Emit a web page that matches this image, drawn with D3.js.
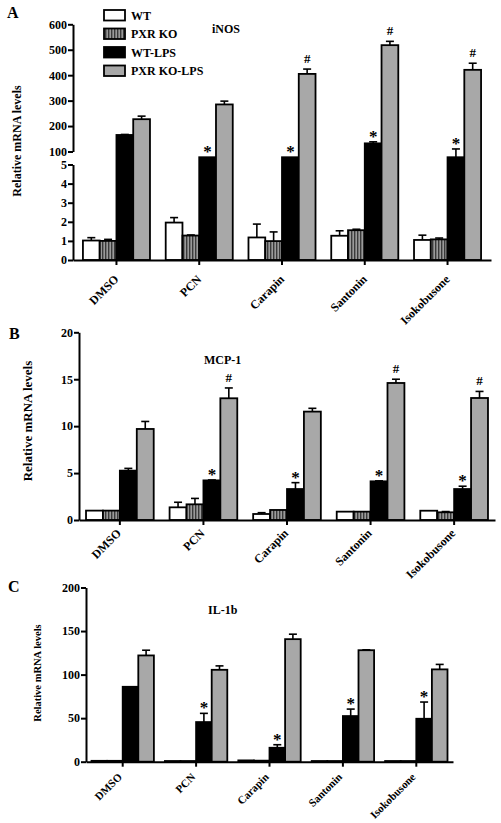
<!DOCTYPE html>
<html><head><meta charset="utf-8">
<script src="https://cdn.jsdelivr.net/npm/d3@7"></script>
<style>body{margin:0;background:#fff}svg{display:block}</style>
</head><body>
<svg id="chart" width="501" height="823"></svg>
<script>
const categories = ["DMSO","PCN","Carapin","Santonin","Isokobusone"];
const seriesNames = ["WT","PXR KO","WT-LPS","PXR KO-LPS"];

// iNOS (panel A)
const inosWT = [1.02, 1.96, 1.18, 1.27, 1.05];
const inosWTErr = [0.15, 0.26, 0.70, 0.26, 0.25];
const inosKO = [1.0, 1.28, 0.99, 1.56, 1.08];
const inosKOErr = [0.08, 0.03, 0.48, 0.05, 0.07];
const inosWTLPS = [165, 58, 58, 132, 58];
const inosWTLPSErr = [2, 0, 0, 6, 52];
const inosKOLPS = [227, 285, 405, 518, 421];
const inosKOLPSErr = [12, 13, 19, 15, 26];
const inosStar = ["", "*", "*", "*", "*"];
const inosHash = ["", "", "#", "#", "#"];

// MCP-1 (panel B)
const mcpWT = [1.0, 1.35, 0.64, 0.89, 0.99];
const mcpWTErr = [0, 0.54, 0.14, 0, 0];
const mcpKO = [1.0, 1.67, 1.07, 0.89, 0.82];
const mcpKOErr = [0, 0.63, 0, 0, 0.08];
const mcpWTLPS = [5.26, 4.22, 3.3, 4.12, 3.3];
const mcpWTLPSErr = [0.24, 0.05, 0.68, 0.05, 0.3];
const mcpKOLPS = [9.7, 12.97, 11.55, 14.6, 13.0];
const mcpKOLPSErr = [0.8, 1.1, 0.35, 0.4, 0.7];
const mcpStar = ["", "*", "*", "*", "*"];
const mcpHash = ["", "#", "", "#", "#"];

// IL-1b (panel C)
const il1WT = [1, 0.8, 1.5, 0.8, 0.8];
const il1WTErr = [0, 0, 0, 0, 0];
const il1KO = [1, 0.8, 1.2, 0.8, 0.8];
const il1KOErr = [0, 0, 0, 0, 0];
const il1WTLPS = [86, 45.5, 16, 52.4, 49.3];
const il1WTLPSErr = [0, 10, 3.5, 8, 19.2];
const il1KOLPS = [122, 105.5, 140.7, 128, 106];
const il1KOLPSErr = [6, 4.5, 5.7, 0.5, 5.7];
const il1Star = ["", "*", "*", "*", "*"];
const il1Hash = ["", "", "", "", ""];

const yTicksAUpper = [100, 200, 300, 400, 500, 600];
const yTicksALower = [0, 1, 2, 3, 4, 5];
const yTicksB = [0, 5, 10, 15, 20];
const yTicksC = [0, 50, 100, 150, 200];

const FONT = "'Liberation Serif','Times New Roman',serif";
const fills = ["#ffffff", "url(#stripes)", "#000000", "#a8a8a8"];

const svg = d3.select("#chart");
const defs = svg.append("defs");
const pat = defs.append("pattern").attr("id","stripes").attr("patternUnits","userSpaceOnUse")
  .attr("width",3).attr("height",6);
pat.append("rect").attr("width",3).attr("height",6).attr("fill","#9a9a9a");
pat.append("rect").attr("width",1.4).attr("height",6).attr("fill","#3a3a3a");

function panel(cfg){
  const g = svg.append("g");
  const x = d3.scaleBand().domain(categories).range(cfg.xRange)
    .paddingInner(cfg.padIn).paddingOuter(cfg.padOut);
  const xs = d3.scaleBand().domain(seriesNames).range([0, x.bandwidth()]);
  const y = cfg.y;
  const vals = cfg.values, errs = cfg.errors;
  const base = y(0);
  seriesNames.forEach((s, si) => {
    const data = categories.map((c, ci) => ({c, v: vals[si][ci], e: errs[si][ci]}));
    const sg = g.append("g");
    sg.selectAll("line.err").data(data.filter(d => d.e > 0)).join("line")
      .attr("x1", d => x(d.c) + xs(s) + xs.bandwidth()/2)
      .attr("x2", d => x(d.c) + xs(s) + xs.bandwidth()/2)
      .attr("y1", d => y(d.v)).attr("y2", d => y(d.v + d.e))
      .attr("stroke","#000").attr("stroke-width",1.6);
    sg.selectAll("line.cap").data(data.filter(d => d.e > 0)).join("line")
      .attr("x1", d => x(d.c) + xs(s) + xs.bandwidth()/2 - 4)
      .attr("x2", d => x(d.c) + xs(s) + xs.bandwidth()/2 + 4)
      .attr("y1", d => y(d.v + d.e)).attr("y2", d => y(d.v + d.e))
      .attr("stroke","#000").attr("stroke-width",1.6);
    sg.selectAll("rect").data(data).join("rect")
      .attr("x", d => x(d.c) + xs(s))
      .attr("width", xs.bandwidth())
      .attr("y", d => y(d.v))
      .attr("height", d => Math.max(0.5, base - y(d.v)))
      .attr("fill", fills[si]).attr("stroke","#000").attr("stroke-width",1.8);
  });
  const mark = (arr, si) => {
    categories.forEach((c, ci) => {
      if (!arr[ci]) return;
      const top = y(vals[si][ci] + errs[si][ci]);
      const isHash = arr[ci] === "#";
      g.append("text").text(arr[ci])
        .attr("x", x(c) + xs(seriesNames[si]) + xs.bandwidth()/2)
        .attr("y", top - (isHash ? 6 : 0))
        .attr("text-anchor","middle").attr("font-family",FONT)
        .attr("font-weight","bold").attr("font-size", isHash ? 13 : 17);
    });
  };
  mark(cfg.star, 2);
  mark(cfg.hash, 3);
  const xa = g.append("g").attr("transform",`translate(0,${base})`)
    .call(d3.axisBottom(x).tickSize(5).tickSizeOuter(0).tickFormat(""));
  xa.select(".domain").attr("stroke-width",2);
  xa.selectAll(".tick line").attr("stroke-width",2);
  categories.forEach(c => {
    g.append("text").text(c)
      .attr("transform",`translate(${x(c) + x.bandwidth()/2 + cfg.catOff[0]},${base + cfg.catOff[1]}) rotate(-45)`)
      .attr("text-anchor","end")
      .attr("font-family",FONT).attr("font-weight","bold").attr("font-size",cfg.catSize);
  });
  cfg.yAxes.forEach(ax => {
    const ya = g.append("g").attr("transform",`translate(${cfg.xRange[0]},0)`)
      .call(d3.axisLeft(ax.scale).tickValues(ax.ticks).tickFormat(d3.format("d"))
        .tickSize(5).tickSizeOuter(0).tickPadding(1));
    ya.select(".domain").attr("stroke-width",2);
    ya.selectAll(".tick line").attr("stroke-width",2);
    ya.selectAll(".tick text").attr("font-family",FONT).attr("font-weight","bold")
      .attr("font-size",12).attr("fill","#000");
  });
  g.append("text").text("Relative mRNA levels")
    .attr("transform",`translate(${cfg.ylab[0]},${cfg.ylab[1]}) rotate(-90)`)
    .attr("text-anchor","middle").attr("dy","0.35em")
    .attr("font-family",FONT).attr("font-weight","bold").attr("font-size",cfg.ylabSize);
  g.append("text").text(cfg.title).attr("x",cfg.titlePos[0]).attr("y",cfg.titlePos[1])
    .attr("font-family",FONT).attr("font-weight","bold").attr("font-size",12);
  g.append("text").text(cfg.letter).attr("x",cfg.letterPos[0]).attr("y",cfg.letterPos[1])
    .attr("font-family",FONT).attr("font-weight","bold").attr("font-size",16);
  return g;
}

// Panel A with broken axis
const yAUpper = d3.scaleLinear().domain([100, 600]).range([151.5, 24.3]);
const yALower = d3.scaleLinear().domain([0, 5]).range([260, 164.5]);
const yA = d3.scaleLinear()
  .domain([yALower.domain()[0], yALower.domain()[1], yAUpper.domain()[0], yAUpper.domain()[1]])
  .range([yALower.range()[0], yALower.range()[1], yAUpper.range()[0], yAUpper.range()[1]]);

panel({
  xRange:[73, 491], padIn:0.19, padOut:0.12, y:yA,
  values:[inosWT, inosKO, inosWTLPS, inosKOLPS],
  errors:[inosWTErr, inosKOErr, inosWTLPSErr, inosKOLPSErr],
  star:inosStar, hash:inosHash, catSize:12, catOff:[3,20],
  yAxes:[{scale:yAUpper, ticks:yTicksAUpper},{scale:yALower, ticks:yTicksALower}],
  ylab:[17,141], ylabSize:12, title:"iNOS", titlePos:[212,33], letter:"A", letterPos:[7,18]
});

const yB = d3.scaleLinear().domain([0,20]).range([520, 332.3]);
panel({
  xRange:[79, 495], padIn:0.19, padOut:0.084, y:yB,
  values:[mcpWT, mcpKO, mcpWTLPS, mcpKOLPS],
  errors:[mcpWTErr, mcpKOErr, mcpWTLPSErr, mcpKOLPSErr],
  star:mcpStar, hash:mcpHash, catSize:12, catOff:[2,14],
  yAxes:[{scale:yB, ticks:yTicksB}],
  ylab:[27,421], ylabSize:13, title:"MCP-1", titlePos:[204,364], letter:"B", letterPos:[9,339]
});

const yC = d3.scaleLinear().domain([0,200]).range([761.7, 587.5]);
panel({
  xRange:[86, 453], padIn:0.15, padOut:0.075, y:yC,
  values:[il1WT, il1KO, il1WTLPS, il1KOLPS],
  errors:[il1WTErr, il1KOErr, il1WTLPSErr, il1KOLPSErr],
  star:il1Star, hash:il1Hash, catSize:11, catOff:[0,16],
  yAxes:[{scale:yC, ticks:yTicksC}],
  ylab:[37,673], ylabSize:10.5, title:"IL-1b", titlePos:[208,614], letter:"C", letterPos:[8,592]
});

// Legend
const leg = svg.append("g");
seriesNames.forEach((s, i) => {
  leg.append("rect").attr("x",104).attr("y",10 + i*18.5).attr("width",21).attr("height",10.5)
    .attr("fill",fills[i]).attr("stroke","#000").attr("stroke-width",1.8);
  leg.append("text").text(s).attr("x",131).attr("y",15.5 + i*18.5).attr("dy","0.35em")
    .attr("font-family",FONT).attr("font-weight","bold").attr("font-size",12);
});
</script>
</body></html>
